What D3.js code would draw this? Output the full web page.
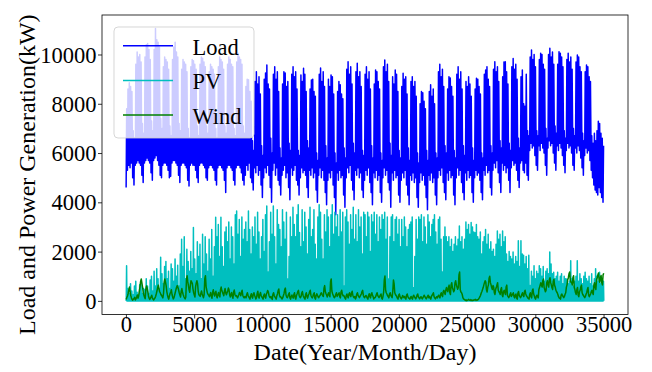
<!DOCTYPE html>
<html><head><meta charset="utf-8">
<script src="https://cdn.jsdelivr.net/npm/d3@7"></script>
<style>
body{margin:0;background:#fff}
svg{display:block}
text{font-family:"Liberation Serif","Times New Roman",serif;fill:#000}
</style>
</head><body>
<svg id="chart" width="652" height="372"></svg>
<script>
// Daily peak of the load (kW), one value per day, 365 days
const loadMax = [
7800,8600,8850,8700,8500,6900,6600,
9600,10100,9900,10000,9700,7200,6800,
9900,10400,10450,10200,9800,7300,6900,
10200,11050,10600,10500,10300,7400,7000,
9500,9900,9800,9700,9400,7100,6700,
9800,10300,10500,10100,9900,7200,6900,
9400,9800,9700,9600,9300,7000,6600,
9500,9800,9750,9600,9400,7100,6700,
9600,9900,9850,9700,9500,7100,6800,
9300,9600,9500,9400,9200,7000,6600,
9500,9900,9800,9700,9400,7100,6800,
9600,9900,9800,9600,9500,7000,6700,
9700,10050,9900,9800,9600,7100,6800,
8700,9000,8970,8500,8100,6500,6100,
8900,9300,8800,9100,8400,6300,5900,
9000,9250,9575,8800,8600,6600,6000,
9200,9500,9000,9300,8500,6200,5800,
8800,9300,9250,8700,8900,6400,6100,
9200,9500,9100,9300,8600,6100,5900,
9170,8900,9440,9200,8500,6500,6200,
8600,8960,9000,8500,8300,6000,5700,
9200,9450,8900,9300,8700,6300,5800,
9000,8700,9170,9100,8400,6000,5600,
8500,8900,8770,8400,8200,6200,5800,
9400,9710,9200,9500,8800,6400,6000,
9300,9640,9100,9300,8700,6100,5900,
9200,9500,9000,9300,8600,6300,5800,
8800,9370,9300,8900,8600,6000,5700,
9500,9780,9300,9600,8900,6400,5900,
9100,8800,9370,9200,8500,6100,5800,
8700,9240,9000,9100,8400,6200,5700,
8900,9100,8700,8900,8300,6000,5600,
8000,8500,8450,8100,7800,6100,5700,
8500,8770,8300,8600,8000,6000,5800,
9300,9600,9100,9400,8700,6300,6000,
8600,9100,9050,8700,8300,6100,5800,
9200,9500,9000,9300,8600,6300,5900,
8900,8700,9100,8800,8300,6200,5700,
8600,9040,9000,8700,8400,6000,5800,
9200,9370,9500,9000,8700,6300,6000,
9400,9710,9300,9500,8900,6500,6200,
9100,9700,9710,9300,8800,6400,6100,
9500,9840,9400,9600,9000,6600,6200,
9100,9370,8000,7900,9200,6900,6700,
9900,10180,9800,10000,9500,6900,6700,
9800,10050,10000,9600,9400,7000,6600,
10000,10250,9900,10100,9600,7100,6800,
9600,10110,10050,9900,9500,6900,6600,
9800,10050,9700,9900,9400,7000,6700,
9700,9980,9900,9500,9300,6800,6500,
9300,9575,9500,9100,8900,6700,6400,
6800,6500,6900,7290,7200,6800,6600,
6300
];
// Daily lowest load (kW)
const loadMin = [
4600,5300,5500,5400,5600,5000,4700,
5500,5600,5700,5600,5500,5100,4800,
5600,5700,5800,5700,5600,5200,4900,
5700,5800,5900,5700,5500,5100,5000,
5500,5600,5600,5500,5300,5000,5060,
5600,5700,5700,5600,5500,5100,4800,
5500,5600,5600,5500,5400,4900,4660,
5500,5600,5500,5500,5300,5000,4800,
5500,5600,5600,5500,5400,5000,4900,
5400,5500,5500,5400,5300,4900,4700,
5400,5500,5500,5400,5300,4900,4400,
5400,5500,5500,5400,5300,4900,4700,
5400,5500,5500,5400,5200,4900,4700,
5100,5500,5300,5600,5000,4800,4500,
5400,5200,5500,5100,5300,4700,4200,
5000,5400,5200,5500,5100,4600,4000,
5300,5600,5100,5400,4900,4700,4300,
5100,5300,5500,5000,5200,4600,4100,
5400,5100,5300,5500,4900,4700,4300,
5000,5400,5200,5300,5100,4600,4200,
5300,5100,5400,5000,5200,4500,4000,
5100,5400,5000,5300,4900,4400,3900,
4900,5200,5000,5300,4700,4200,3500,
5200,4900,5300,5000,5100,4300,3800,
5000,5400,5200,5500,4900,4500,4100,
5300,5100,5400,5000,5200,4500,4200,
4900,5300,5100,5400,4800,4400,3900,
5200,5000,5300,4900,5100,4400,4000,
5000,5400,5100,5300,4800,4500,3800,
5200,4900,5300,5000,5100,4300,4000,
4900,5200,5000,5300,4700,4300,3900,
5100,4900,5200,4800,5000,4200,3800,
4800,5200,4900,5100,4700,4200,3700,
5100,4900,5200,4800,5000,4300,3900,
5000,5300,5100,5400,4800,4400,4100,
5200,4900,5300,5000,5100,4300,3900,
5000,5400,5100,5300,4800,4400,4100,
5200,4900,5300,5000,5100,4400,4000,
5000,5300,5100,5200,4900,4400,4100,
5300,5100,5500,5200,5300,4600,4300,
5300,5600,5400,5700,5200,4800,4400,
5600,5300,5500,5200,5400,4900,4400,
5400,5700,5500,5600,5300,4900,4600,
5600,5700,5300,5200,5600,5100,4900,
6100,6400,6200,6300,5900,5500,5300,
6300,6100,6400,6200,6000,5500,5100,
6200,6500,6300,6400,6000,5600,5300,
6300,6100,6400,6200,5900,5500,5200,
6100,6400,6200,6300,6000,5500,5300,
6200,6000,6300,6100,5800,5400,5100,
5900,6200,6000,6100,5700,5300,5000,
4700,4500,4400,4300,4600,4400,4200,
4000
];
// Daily midday peak of PV generation (kW)
const pvMax = [
1430,500,300,700,400,250,600,
800,350,200,650,700,300,500,
450,900,600,300,850,1000,400,
1200,600,1300,900,500,1770,1100,
700,1400,1600,900,1200,500,1500,
1300,800,1700,1000,1450,600,1900,
2500,1400,2600,900,2100,1600,1200,
2000,1300,2980,1700,1100,2400,1800,
2300,900,2700,1500,2600,1900,1200,
2500,1700,2900,1000,2200,3390,2600,
3100,1800,3390,2200,1400,2800,3000,
2400,3200,1700,3000,2600,1500,3500,
3650,2700,3300,1800,3400,2500,2900,
3200,2400,3650,2900,1900,3000,2600,
3400,2300,3600,2800,1700,2600,3300,
2000,3500,3850,1170,2400,3600,2700,
3850,2600,1500,3700,3100,2900,2200,
3700,3200,2500,3600,890,1800,3400,
2600,3800,3100,2600,3500,3900,2780,
2200,3700,2400,3600,3000,1900,3300,
3800,2600,2900,3700,2300,1700,3400,
3900,3600,2500,1700,3500,2800,3700,
3400,2200,3500,3900,2700,3600,3000,
3500,2600,3700,2800,3600,600,3400,
3700,3200,2300,3500,2900,3800,2500,
3500,2400,3700,3000,3400,1900,3600,
3500,2600,3600,3400,2000,3500,3200,
3600,2700,3500,2400,3400,2900,3500,
3300,3600,2500,3400,890,2600,3400,
3500,2400,3300,3400,2700,3300,2200,
3300,2600,3400,3000,2200,2900,3100,
3200,3400,530,1800,3300,2500,3400,
3300,3500,2400,3400,3000,2300,3500,
3200,2600,3100,3300,3500,2800,2300,
3300,3400,2500,1170,2600,3000,2600,
2400,2600,2200,2500,2000,2300,2600,
2230,2500,3040,2400,2600,2100,2500,
3200,2900,3100,2700,3180,3000,2800,
2770,3100,2600,2500,2800,1900,2400,
2600,2900,2300,2700,2100,2400,2000,
2100,1800,2300,2840,2500,2700,2200,
2840,2400,2600,1900,1600,2000,1800,
1700,1980,1500,1800,1600,2440,1400,
2440,1900,1850,1500,1800,1300,1850,
620,1200,1000,1430,900,1200,1100,
1430,1300,1000,1400,800,1200,1300,
1100,1980,1500,1100,1160,900,1000,
1160,800,1000,1100,700,1000,900,
890,700,800,1630,900,600,800,
1000,1630,800,1100,900,700,1000,
1160,900,800,1000,700,1100,600,
900,1300,1000,800,1160,700,900,
800
];
// Wind generation (kW), two readings per day (morning, evening)
const wind = [
60,140,200,300,450,560,380,220,120,60,30,70,90,150,
40,90,160,240,110,190,380,560,780,890,720,560,350,240,
150,90,480,600,520,380,200,110,60,100,170,230,130,70,
40,80,120,190,290,400,540,640,500,380,330,260,220,170,
120,300,750,890,760,620,380,240,130,70,200,300,360,450,
260,150,80,130,240,350,460,560,620,540,450,330,240,160,
380,500,350,260,180,120,80,160,850,1020,780,620,450,350,
650,820,760,700,480,330,240,160,580,730,820,700,380,250,
220,180,300,400,280,200,130,260,900,1020,580,440,320,260,
230,170,260,340,190,110,350,450,280,200,320,390,180,120,
260,340,220,160,450,560,420,350,280,210,400,500,320,250,
330,400,520,450,240,160,270,340,180,110,360,440,260,200,
220,170,120,190,260,340,280,210,360,430,230,160,120,180,
170,120,260,330,230,160,120,70,210,290,160,110,280,330,
230,160,80,130,310,390,170,110,260,340,220,160,120,70,
220,280,160,110,270,340,420,360,220,160,130,180,110,60,
270,330,220,160,120,70,210,290,420,480,230,160,170,110,
80,130,220,300,460,520,240,160,130,190,280,330,120,70,
180,240,170,110,260,330,120,70,220,290,380,430,230,160,
130,180,320,380,230,160,110,70,270,330,170,110,220,280,
370,430,230,160,120,180,280,330,120,70,220,290,230,160,
130,190,220,290,330,260,210,180,520,620,380,300,230,160,
270,330,230,170,780,890,400,300,230,160,130,180,270,330,
180,230,280,330,170,120,370,430,280,210,220,170,110,70,
220,280,170,120,280,330,220,170,320,390,230,160,130,180,
80,130,280,330,220,170,130,180,230,280,380,430,230,160,
130,180,220,170,110,70,220,290,170,120,280,330,220,170,
80,130,130,180,270,330,220,170,130,180,230,280,110,70,
180,350,850,1010,450,330,280,210,170,120,280,330,220,170,
130,400,850,700,330,260,220,170,110,70,230,280,170,120,
80,130,220,170,130,180,110,70,230,280,170,120,110,70,
130,180,110,70,180,230,170,120,80,130,230,280,170,120,
80,130,170,120,80,130,180,230,170,120,80,130,180,230,
130,180,110,70,180,230,270,330,170,120,80,130,170,120,
180,230,170,120,270,330,220,170,380,430,330,260,450,540,
430,370,560,640,340,260,650,740,530,460,370,430,740,820,
650,560,470,540,1050,1170,450,360,330,260,130,80,60,40,
20,40,10,30,40,60,30,20,50,30,10,30,20,40,
40,60,20,40,30,50,80,120,170,230,320,380,460,540,
650,740,820,760,450,360,560,650,920,1000,740,650,530,460,
620,560,330,260,470,540,650,740,430,370,330,260,470,540,
230,170,370,430,330,260,560,640,230,170,130,180,270,330,
180,230,270,330,170,120,230,280,110,70,320,380,220,170,
130,180,270,330,220,170,370,430,280,210,170,120,110,70,
270,330,170,120,420,480,280,210,110,70,180,230,170,120,
460,540,650,740,630,560,820,890,540,460,370,430,740,820,
650,560,860,940,740,650,530,460,800,880,630,560,430,370,
330,260,170,120,110,70,230,280,220,170,130,180,270,330,
560,650,860,940,1100,1170,840,760,740,650,950,1020,540,460,
330,260,460,540,230,170,370,430,560,640,330,260,220,170,
130,180,270,330,460,540,230,170,230,280,370,430,330,260,
650,740,540,460,860,940,1050,1130,840,760,950,1030,740,650,
1050,1120
];
const seriesNames = ["Load", "PV", "Wind"];
const xTicks = [0, 5000, 10000, 15000, 20000, 25000, 30000, 35000];
const yTicks = [0, 2000, 4000, 6000, 8000, 10000];
const xTitle = "Date(Year/Month/Day)";
const yTitle = "Load and Power Generation(kW)";

const colors = ["#0000ff", "#00bfbf", "#008000"];
const stepsPerDay = 96; // 15-minute samples

const svg = d3.select("#chart");
const box = {left: 102, right: 628, top: 15, bottom: 314.5};

const nPts = loadMax.length * stepsPerDay;
const xPad = (nPts - 1) * 0.05;
const x = d3.scaleLinear().domain([-xPad, nPts - 1 + xPad]).range([box.left, box.right]);
const yHi = d3.max([...loadMax, ...pvMax, ...wind]);
const yLo = 0;
const yPad = (yHi - yLo) * 0.05;
const y = d3.scaleLinear().domain([yLo - yPad, yHi + yPad]).range([box.bottom, box.top]);

svg.append("defs").append("clipPath").attr("id", "clip")
  .append("rect").attr("x", box.left).attr("y", box.top)
  .attr("width", box.right - box.left).attr("height", box.bottom - box.top);

const line = d3.line().x(d => x(d[0])).y(d => y(d[1]));
const plot = svg.append("g").attr("clip-path", "url(#clip)");

const loadPts = loadMax.flatMap((mx, d) => [[d * stepsPerDay + 16, loadMin[d]], [d * stepsPerDay + 56, mx]]);
const pvPts = pvMax.flatMap((mx, d) => [[d * stepsPerDay + 24, 0], [d * stepsPerDay + 50, mx], [d * stepsPerDay + 74, 0]]);
const half = stepsPerDay / 2;
const windPts = wind.map((v, k) => [k * half + 20, v]);

[loadPts, pvPts, windPts].forEach((pts, i) => {
  plot.append("path").datum(pts).attr("d", line)
    .attr("fill", "none").attr("stroke", colors[i])
    .attr("stroke-width", 1.5).attr("stroke-linejoin", "round");
});

// axes
const fs = 22.5;
const ff = '"Liberation Serif","Times New Roman",serif';
const gx = svg.append("g").attr("transform", `translate(0,${box.bottom})`)
  .call(d3.axisBottom(x).tickValues(xTicks).tickSize(4).tickFormat(d3.format("d")));
gx.select(".domain").remove();
gx.selectAll("line").attr("stroke", "#000").attr("stroke-width", 0.8);
gx.selectAll("text").attr("y", 17).attr("dy", 0).style("font-size", fs + "px")
  .style("font-family", ff).attr("fill", "#000");

const gy = svg.append("g").attr("transform", `translate(${box.left},0)`)
  .call(d3.axisLeft(y).tickValues(yTicks).tickSize(4).tickPadding(1.5).tickFormat(d3.format("d")));
gy.select(".domain").remove();
gy.selectAll("line").attr("stroke", "#000").attr("stroke-width", 0.8);
gy.selectAll("text").attr("dy", "0.34em").style("font-size", fs + "px")
  .style("font-family", ff).attr("fill", "#000");

svg.append("rect").attr("x", box.left).attr("y", box.top)
  .attr("width", box.right - box.left).attr("height", box.bottom - box.top)
  .attr("fill", "none").attr("stroke", "#000").attr("stroke-width", 0.8);

svg.append("text").attr("x", (box.left + box.right) / 2).attr("y", 360)
  .attr("text-anchor", "middle").style("font-size", "24px").text(xTitle);
svg.append("text").attr("transform", `translate(35,${(box.top + box.bottom) / 2 + 10}) rotate(-90)`)
  .attr("text-anchor", "middle").style("font-size", "24px").text(yTitle);

// legend
const lg = svg.append("g");
lg.append("rect").attr("x", 114).attr("y", 27).attr("width", 140).attr("height", 111)
  .attr("rx", 4).attr("fill", "#fff").attr("fill-opacity", 0.8)
  .attr("stroke", "#ccc").attr("stroke-opacity", 0.8);
seriesNames.forEach((name, i) => {
  const ly = 45.7 + i * 34.7;
  lg.append("line").attr("x1", 123).attr("x2", 173).attr("y1", ly).attr("y2", ly)
    .attr("stroke", colors[i]).attr("stroke-width", 1.5);
  lg.append("text").attr("x", 192.5).attr("y", ly + 9).style("font-size", "22.5px").text(name);
});
</script>
</body></html>
